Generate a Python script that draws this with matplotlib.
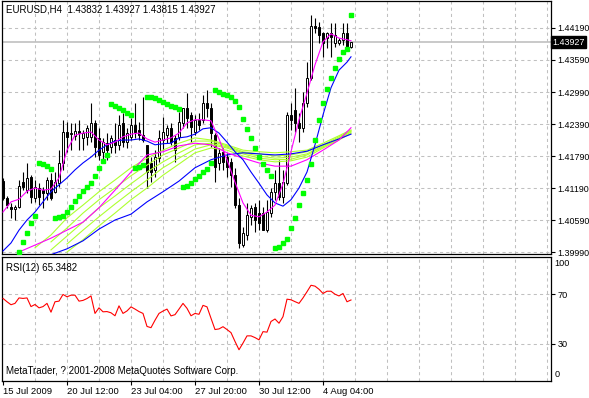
import numpy as np
import matplotlib.pyplot as plt

plt.rcParams['font.family'] = ['Liberation Sans', 'DejaVu Sans']

# EURUSD H4 candles (bar 0 = 15 Jul 2009)
open_ = [1.4132, 1.4100, 1.4083, 1.4080, 1.4083, 1.4130, 1.4115, 1.4140, 1.4100, 1.4119,
         1.4115, 1.4110, 1.4134, 1.4112, 1.4128, 1.4166, 1.4224, 1.4220, 1.4217, 1.4226,
         1.4213, 1.4215, 1.4215, 1.4241, 1.4213, 1.4187, 1.4203, 1.4196, 1.4209, 1.4200,
         1.4241, 1.4205, 1.4215, 1.4237, 1.4228, 1.4218, 1.4200, 1.4166, 1.4153, 1.4175,
         1.4209, 1.4218, 1.4232, 1.4213, 1.4215, 1.4241, 1.4269, 1.4256, 1.4224, 1.4247,
         1.4247, 1.4278, 1.4269, 1.4218, 1.4166, 1.4187, 1.4177, 1.4168, 1.4143, 1.4087,
         1.4012, 1.4031, 1.4065, 1.4083, 1.4072, 1.4072, 1.4040, 1.4072, 1.4112, 1.4128,
         1.4102, 1.4128, 1.4256, 1.4265, 1.4241, 1.4232, 1.4278, 1.4325, 1.4423, 1.4421,
         1.4410, 1.4400, 1.4410, 1.4391, 1.4391, 1.4397, 1.4410, 1.43832]
high_ = [1.4138, 1.4104, 1.4091, 1.4087, 1.4134, 1.4149, 1.4166, 1.4143, 1.4134, 1.4128,
         1.4121, 1.4140, 1.4147, 1.4149, 1.4190, 1.4247, 1.4243, 1.4241, 1.4241, 1.4247,
         1.4228, 1.4237, 1.4278, 1.4247, 1.4232, 1.4213, 1.4222, 1.4218, 1.4241, 1.4256,
         1.4260, 1.4232, 1.4250, 1.4278, 1.4243, 1.4290, 1.4200, 1.4177, 1.4190, 1.4228,
         1.4252, 1.4237, 1.4241, 1.4218, 1.4262, 1.4269, 1.4297, 1.4262, 1.4256, 1.4260,
         1.4293, 1.4303, 1.4278, 1.4222, 1.4194, 1.4194, 1.4185, 1.4175, 1.4157, 1.4100,
         1.4046, 1.4091, 1.4087, 1.4091, 1.4097, 1.4083, 1.4097, 1.4119, 1.4153, 1.4172,
         1.4153, 1.4262, 1.4278, 1.4307, 1.4260, 1.4299, 1.4355, 1.4443, 1.4438, 1.4430,
         1.4412, 1.4412, 1.4428, 1.4428, 1.4400, 1.4428, 1.4428, 1.43927]
low_ = [1.4097, 1.4082, 1.4063, 1.4059, 1.4082, 1.4115, 1.4110, 1.4091, 1.4093, 1.4087,
        1.4082, 1.4097, 1.4097, 1.4110, 1.4121, 1.4153, 1.4187, 1.4190, 1.4209, 1.4190,
        1.4190, 1.4200, 1.4205, 1.4177, 1.4172, 1.4168, 1.4172, 1.4185, 1.4185, 1.4190,
        1.4196, 1.4194, 1.4209, 1.4213, 1.4209, 1.4205, 1.4119, 1.4130, 1.4140, 1.4168,
        1.4190, 1.4203, 1.4200, 1.4168, 1.4209, 1.4232, 1.4232, 1.4205, 1.4218, 1.4228,
        1.4241, 1.4252, 1.4196, 1.4130, 1.4153, 1.4153, 1.4140, 1.4121, 1.4082, 1.4007,
        1.4008, 1.4022, 1.4050, 1.4037, 1.4040, 1.4040, 1.4037, 1.4065, 1.4097, 1.4097,
        1.4091, 1.4125, 1.4228, 1.4224, 1.4205, 1.4224, 1.4271, 1.4322, 1.4410, 1.4391,
        1.4365, 1.4382, 1.4365, 1.4383, 1.4387, 1.4387, 1.4382, 1.43815]
close_ = [1.4100, 1.4087, 1.4080, 1.4083, 1.4123, 1.4121, 1.4138, 1.4102, 1.4121, 1.4102,
          1.4110, 1.4134, 1.4100, 1.4130, 1.4166, 1.4224, 1.4215, 1.4222, 1.4226, 1.4222,
          1.4222, 1.4232, 1.4241, 1.4196, 1.4181, 1.4205, 1.4190, 1.4213, 1.4200, 1.4237,
          1.4205, 1.4222, 1.4237, 1.4224, 1.4218, 1.4209, 1.4149, 1.4149, 1.4177, 1.4213,
          1.4224, 1.4232, 1.4205, 1.4190, 1.4243, 1.4269, 1.4250, 1.4233, 1.4247, 1.4237,
          1.4278, 1.4269, 1.4222, 1.4158, 1.4185, 1.4168, 1.4158, 1.4143, 1.4087, 1.4016,
          1.4035, 1.4068, 1.4082, 1.4059, 1.4053, 1.4040, 1.4074, 1.4112, 1.4128, 1.4102,
          1.4130, 1.4256, 1.4247, 1.4241, 1.4232, 1.4278, 1.4325, 1.4423, 1.4419, 1.4406,
          1.4391, 1.4410, 1.4402, 1.4406, 1.4397, 1.4410, 1.4383, 1.43927]

# parabolic SAR (nan = off chart)
sar = [np.nan, np.nan, np.nan, np.nan, 1.3999, 1.4018, 1.4035, 1.4053, 1.4066, 1.4166,
       1.4164, 1.4160, 1.4155, 1.4063, 1.4065, 1.4066, 1.4074, 1.4083, 1.4095, 1.4104,
       1.4113, 1.4121, 1.4128, 1.4142, 1.4157, 1.4170, 1.4181, 1.4277, 1.4273, 1.4269,
       1.4265, 1.4260, 1.4256, 1.4157, 1.4158, 1.4162, 1.4290, 1.4290, 1.4288, 1.4284,
       1.4280, 1.4277, 1.4273, 1.4271, 1.4267, 1.4121, 1.4123, 1.4128, 1.4136, 1.4142,
       1.4149, 1.4155, 1.4166, 1.4303, 1.4299, 1.4295, 1.4293, 1.4290, 1.4282, 1.4271,
       1.4248, 1.4230, 1.4213, 1.4194, 1.4177, 1.4164, 1.4153, 1.4142, 1.4007, 1.4008,
       1.4016, 1.4023, 1.4044, 1.4063, 1.4087, 1.4110, 1.4134, 1.4164, 1.4209, 1.4247,
       1.4278, 1.4305, 1.4325, 1.4344, 1.4361, 1.4374, 1.4380, 1.4443]

# fast moving averages, read every 2 bars
fast_idx = list(range(0, 88, 2)) + [87]
fast_magenta = [1.4074, 1.4093, 1.4098, 1.4113, 1.4119, 1.4115, 1.4117, 1.4138, 1.4190, 1.4218,
                1.4222, 1.4224, 1.4209, 1.4200, 1.4205, 1.4215, 1.4220, 1.4222, 1.4211, 1.4205,
                1.4209, 1.4213, 1.4222, 1.4241, 1.4247, 1.4247, 1.4245, 1.4211, 1.4172, 1.4130,
                1.4091, 1.4068, 1.4065, 1.4074, 1.4087, 1.4127, 1.4187, 1.4247, 1.4297, 1.4350,
                1.4393, 1.4408, 1.4400, 1.4397, 1.4395]
fast_blue = [1.4001, 1.4016, 1.4040, 1.4059, 1.4074, 1.4093, 1.4112, 1.4125, 1.4138, 1.4153,
             1.4166, 1.4177, 1.4190, 1.4200, 1.4207, 1.4209, 1.4209, 1.4211, 1.4207, 1.4200,
             1.4202, 1.4203, 1.4213, 1.4215, 1.4220, 1.4230, 1.4232, 1.4222, 1.4205, 1.4187,
             1.4172, 1.4149, 1.4128, 1.4106, 1.4091, 1.4085, 1.4097, 1.4119, 1.4149, 1.4200,
             1.4256, 1.4307, 1.4340, 1.4355, 1.4365]

# slow averages, read every 4 bars
slow_idx = list(range(0, 88, 4)) + [87]
slow_blue = [np.nan, np.nan, np.nan, 1.3994, 1.4005, 1.4020, 1.4042, 1.4059, 1.4070, 1.4093,
             1.4112, 1.4132, 1.4157, 1.4172, 1.4181, 1.4185, 1.4183, 1.4181, 1.4183, 1.4188,
             1.4200, 1.4211, 1.4220]
slow_magenta = [np.nan, 1.3999, 1.4012, 1.4025, 1.4040, 1.4055, 1.4082, 1.4115, 1.4149, 1.4181,
                1.4187, 1.4198, 1.4203, 1.4200, 1.4185, 1.4175, 1.4166, 1.4160, 1.4160, 1.4172,
                1.4190, 1.4209, 1.4232]
ribbon_1 = [np.nan, np.nan, 1.4007, 1.4031, 1.4063, 1.4087, 1.4112, 1.4134, 1.4157, 1.4175,
            1.4190, 1.4203, 1.4213, 1.4209, 1.4200, 1.4190, 1.4187, 1.4185, 1.4187, 1.4190,
            1.4203, 1.4217, 1.4228]
ribbon_2 = [np.nan, np.nan, np.nan, 1.4018, 1.4044, 1.4072, 1.4097, 1.4119, 1.4142, 1.4162,
            1.4181, 1.4194, 1.4207, 1.4207, 1.4198, 1.4187, 1.4183, 1.4179, 1.4181, 1.4187,
            1.4200, 1.4215, 1.4226]
ribbon_3 = [np.nan, np.nan, np.nan, 1.4003, 1.4029, 1.4055, 1.4082, 1.4104, 1.4127, 1.4149,
            1.4168, 1.4185, 1.4200, 1.4203, 1.4196, 1.4185, 1.4179, 1.4175, 1.4177, 1.4183,
            1.4198, 1.4213, 1.4226]
ribbon_4 = [np.nan, np.nan, np.nan, np.nan, 1.4014, 1.4040, 1.4065, 1.4089, 1.4112, 1.4134,
            1.4157, 1.4175, 1.4192, 1.4200, 1.4194, 1.4183, 1.4175, 1.4172, 1.4173, 1.4181,
            1.4196, 1.4211, 1.4224]
ribbon_5 = [np.nan, np.nan, np.nan, np.nan, 1.3999, 1.4022, 1.4048, 1.4072, 1.4097, 1.4119,
            1.4143, 1.4164, 1.4185, 1.4194, 1.4190, 1.4179, 1.4172, 1.4168, 1.4170, 1.4177,
            1.4194, 1.4209, 1.4222]

rsi = [66.6, 63.9, 61.5, 62.6, 67.0, 66.6, 67.0, 60.0, 61.7, 59.0,
       60.0, 62.6, 55.5, 63.9, 64.4, 69.8, 67.9, 69.2, 69.2, 64.4,
       65.0, 66.5, 68.6, 54.5, 59.0, 55.8, 56.0, 55.0, 52.6, 60.6,
       54.5, 56.5, 59.8, 58.0, 56.0, 54.5, 44.0, 43.0, 49.0, 54.5,
       56.4, 58.0, 52.5, 53.5, 58.0, 62.6, 58.6, 52.6, 54.5, 53.8,
       61.0, 59.8, 50.6, 41.5, 42.0, 43.8, 41.5, 39.0, 31.9, 25.2,
       30.6, 36.4, 36.4, 35.0, 33.2, 39.8, 39.4, 48.0, 50.0, 46.6,
       51.9, 66.0, 65.5, 64.0, 62.6, 67.0, 72.0, 77.2, 76.5, 74.0,
       70.6, 72.4, 72.4, 70.0, 68.6, 70.6, 63.9, 65.3482]

price_ticks = [1.39990, 1.40590, 1.41190, 1.41790, 1.42390, 1.42990, 1.43590, 1.44190]
date_pos = [0, 16, 32, 48, 64, 80]
date_labels = ["15 Jul 2009", "20 Jul 12:00", "23 Jul 04:00", "27 Jul 20:00",
               "30 Jul 12:00", "4 Aug 04:00"]

grid_kw = dict(color='#c0c0c0', lw=0.75, ls=(0, (3, 3)), zorder=0)
W, H = 589, 398
fig = plt.figure(figsize=(W / 100, H / 100), dpi=100)
ax = fig.add_axes([2 / W, 1 - 254 / H, 549 / W, 253 / H])
ax2 = fig.add_axes([2 / W, 1 - 381 / H, 549 / W, 124 / H])

for a in (ax, ax2):
    a.set_xlim(-0.25, 137)
    for s in a.spines.values():
        s.set_linewidth(0.9)
    for gx in range(8, 137, 8):
        a.axvline(gx, **grid_kw)

# main price panel
ax.set_ylim(1.39953, 1.44696)
for p in price_ticks:
    ax.axhline(p, **grid_kw)
ax.axhline(close_[-1], color='#c0c0c0', lw=1.2, zorder=0.5)

x = np.arange(len(close_))
for i in x:
    o, h, l, c = open_[i], high_[i], low_[i], close_[i]
    ax.vlines(i, l, h, color='black', lw=0.8, zorder=2)
    if c == o:
        ax.hlines(c, i - 0.35, i + 0.35, color='black', lw=0.8, zorder=2)
    else:
        ax.bar(i, abs(c - o), bottom=min(o, c), width=0.6,
               facecolor='white' if c > o else 'black', edgecolor='black',
               lw=0.7, zorder=2)

for r in (ribbon_1, ribbon_2, ribbon_3, ribbon_4, ribbon_5):
    ax.plot(slow_idx, r, color='#adff2f', lw=0.8, zorder=3)
ax.plot(slow_idx, slow_blue, color='#0000ff', lw=0.8, zorder=3)
ax.plot(slow_idx, slow_magenta, color='#ff00ff', lw=0.8, zorder=3)
ax.plot(fast_idx, fast_blue, color='#0000ff', lw=0.8, zorder=3)
ax.plot(fast_idx, fast_magenta, color='#ff00ff', lw=0.8, zorder=3)
ax.plot(x, sar, ls='none', marker='s', ms=2.4, color='#00ff00', zorder=4)

ax.set_xticks([])
ax.yaxis.tick_right()
ax.set_yticks(price_ticks)
ax.set_yticklabels(['%.5f' % p for p in price_ticks])
ax.tick_params(axis='y', length=3, width=0.8, pad=1.5, labelsize=6.4)
ax.text(1.003, close_[-1], '%.5f' % close_[-1], transform=ax.get_yaxis_transform(),
        color='white', fontsize=6.4, va='center', ha='left',
        bbox=dict(boxstyle='square,pad=0.15', fc='black', ec='black'))
ax.text(0.007, 0.985, 'EURUSD,H4  %.5f %.5f %.5f %.5f' % (open_[-1], high_[-1], low_[-1], close_[-1]),
        transform=ax.transAxes, fontsize=7, va='top', ha='left')

# RSI panel
ax2.set_ylim(0, 100)
for lv in (30, 70):
    ax2.axhline(lv, **grid_kw)
ax2.plot(x, rsi, color='#ff0000', lw=0.8, zorder=3)
ax2.yaxis.tick_right()
ax2.set_yticks([30, 70])
ax2.set_yticklabels(['30', '70'])
ax2.tick_params(axis='y', length=3, width=0.8, pad=1.5, labelsize=6.6)
ax2.text(1.007, 95, '100', transform=ax2.get_yaxis_transform(), fontsize=6.6, va='center')
ax2.text(1.007, 5.5, '0', transform=ax2.get_yaxis_transform(), fontsize=6.6, va='center')
ax2.set_xticks(date_pos)
ax2.set_xticklabels(date_labels, ha='left')
ax2.tick_params(axis='x', length=3, width=0.8, pad=1, labelsize=6.8)
ax2.text(0.007, 0.95, 'RSI(12) %.4f' % rsi[-1], transform=ax2.transAxes,
         fontsize=7, va='top', ha='left')
ax2.text(0.007, 0.04, 'MetaTrader, ? 2001-2008 MetaQuotes Software Corp.',
         transform=ax2.transAxes, fontsize=7, va='bottom', ha='left')

fig.savefig('out.png', dpi=100)
